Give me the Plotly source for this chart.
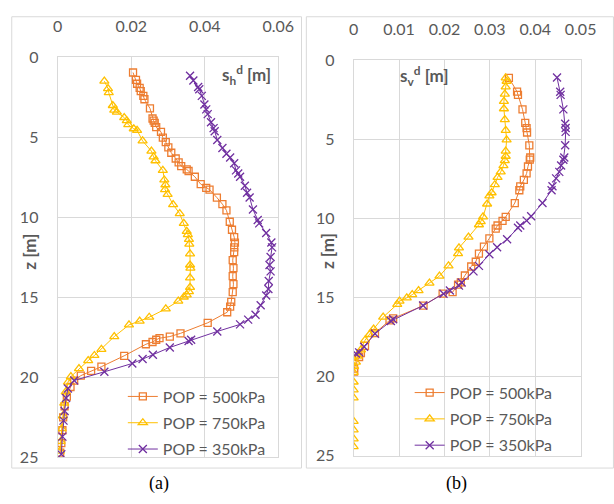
import plotly.graph_objects as go

# ---------------- data : panel (a) horizontal displacement s_h^d [m] vs depth z [m]
a500_x = [0.0205, 0.0213, 0.0216, 0.0223, 0.0226, 0.0233, 0.0236, 0.0251, 0.0258, 0.0261, 0.0264, 0.0268,
          0.0281, 0.0286, 0.0294, 0.0301, 0.0309, 0.0321, 0.0329, 0.0336, 0.0351, 0.0356, 0.0373, 0.0389,
          0.0404, 0.0413, 0.0433, 0.0448, 0.0459, 0.0468, 0.0474, 0.0480, 0.0482, 0.0480, 0.0480, 0.0476,
          0.0478, 0.0476, 0.0478, 0.0476, 0.0472, 0.0469, 0.0461, 0.0408, 0.0334, 0.0305, 0.0277, 0.0268,
          0.0258, 0.0240, 0.0181, 0.0119, 0.0091, 0.0063, 0.0045, 0.0035, 0.0025, 0.0019, 0.0015, 0.0013,
          0.0010, 0.0007]
a500_z = [0.96, 1.42, 1.66, 1.92, 2.12, 2.42, 2.63, 3.20, 3.83, 3.97, 4.10, 4.37,
          4.67, 5.03, 5.31, 5.63, 5.97, 6.33, 6.57, 6.81, 7.01, 7.11, 7.47, 7.93,
          8.17, 8.27, 8.77, 9.18, 9.57, 10.28, 10.78, 11.24, 11.58, 11.88, 12.18, 12.68,
          13.18, 13.68, 14.18, 14.68, 15.28, 15.58, 15.93, 16.59, 17.25, 17.45, 17.55, 17.65,
          17.79, 17.93, 18.65, 19.33, 19.59, 19.89, 20.20, 20.60, 21.20, 21.80, 22.50, 23.30,
          24.10, 24.70]

a750_x = [0.0127, 0.0137, 0.0139, 0.0150, 0.0154, 0.0161, 0.0181, 0.0188, 0.0192, 0.0207, 0.0216, 0.0231,
          0.0255, 0.0261, 0.0266, 0.0286, 0.0290, 0.0293, 0.0292, 0.0299, 0.0314, 0.0332, 0.0343, 0.0351,
          0.0354, 0.0357, 0.0358, 0.0360, 0.0360, 0.0361, 0.0360, 0.0360, 0.0357, 0.0351, 0.0343, 0.0328,
          0.0294, 0.0249, 0.0223, 0.0194, 0.0154, 0.0119, 0.0100, 0.0083, 0.0058, 0.0036, 0.0028, 0.0022,
          0.0018, 0.0014, 0.0011, 0.0008, 0.0006]
a750_z = [1.50, 1.96, 2.22, 3.02, 3.31, 3.43, 3.77, 3.97, 4.22, 4.47, 4.57, 5.23,
          5.87, 6.23, 6.47, 7.07, 7.67, 7.97, 8.27, 8.57, 9.21, 9.77, 10.38, 10.88,
          11.08, 11.38, 11.68, 12.28, 12.98, 13.18, 13.78, 14.38, 14.64, 14.84, 14.98, 15.24,
          15.72, 16.24, 16.48, 16.72, 17.45, 18.25, 18.63, 18.95, 19.45, 19.95, 20.30, 20.90,
          21.60, 22.40, 23.20, 24.00, 24.60]

a350_x = [0.0360, 0.0369, 0.0382, 0.0385, 0.0392, 0.0399, 0.0404, 0.0408, 0.0417, 0.0424, 0.0427, 0.0434,
          0.0448, 0.0459, 0.0469, 0.0480, 0.0485, 0.0491, 0.0496, 0.0509, 0.0515, 0.0522, 0.0531, 0.0544,
          0.0548, 0.0567, 0.0581, 0.0583, 0.0579, 0.0576, 0.0579, 0.0574, 0.0573, 0.0567, 0.0552, 0.0538,
          0.0518, 0.0496, 0.0434, 0.0363, 0.0356, 0.0305, 0.0259, 0.0231, 0.0203, 0.0127, 0.0045, 0.0028,
          0.0023, 0.0019, 0.0016, 0.0013, 0.0010]
a350_z = [1.16, 1.46, 1.86, 2.00, 2.42, 2.96, 3.26, 3.56, 4.07, 4.43, 4.63, 5.17,
          5.67, 6.03, 6.27, 6.63, 7.07, 7.27, 7.47, 8.03, 8.47, 8.77, 9.51, 10.17,
          10.38, 10.98, 11.58, 11.88, 12.48, 12.98, 13.38, 13.98, 14.48, 14.88, 15.49, 16.09,
          16.39, 16.69, 17.13, 17.65, 17.73, 18.13, 18.59, 18.85, 19.13, 19.65, 20.19, 20.69,
          21.29, 22.10, 22.70, 23.70, 24.80]

# ---------------- data : panel (b) vertical displacement s_v^d [m] vs depth z [m]
b500_x = [0.0342, 0.0360, 0.0362, 0.0372, 0.0378, 0.0381, 0.0382, 0.0387, 0.0389, 0.0388, 0.0384, 0.0381,
          0.0375, 0.0367, 0.0365, 0.0355, 0.0335, 0.0328, 0.0317, 0.0313, 0.0299, 0.0287, 0.0276, 0.0269,
          0.0259, 0.0245, 0.0236, 0.0230, 0.0218, 0.0196, 0.0154, 0.0087, 0.0079, 0.0047, 0.0025, 0.0016,
          0.0012, 0.0001, 0.0001]
b500_z = [1.13, 2.00, 2.20, 3.12, 3.97, 4.30, 4.58, 5.39, 6.16, 6.30, 6.73, 7.17,
          7.58, 7.98, 8.23, 9.04, 9.91, 10.17, 10.46, 10.66, 11.27, 11.79, 12.24, 12.75,
          13.05, 13.62, 14.06, 14.20, 14.67, 14.77, 15.52, 16.33, 16.46, 17.26, 18.07, 18.52,
          18.77, 19.50, 19.70]

b750_x = [0.0335, 0.0337, 0.0335, 0.0333, 0.0331, 0.0331, 0.0333, 0.0335, 0.0337, 0.0335, 0.0335, 0.0333,
          0.0330, 0.0324, 0.0317, 0.0311, 0.0304, 0.0299, 0.0294, 0.0285, 0.0280, 0.0276, 0.0253, 0.0232,
          0.0230, 0.0209, 0.0189, 0.0167, 0.0143, 0.0129, 0.0117, 0.0101, 0.0096, 0.0065, 0.0044, 0.0035,
          0.0025, 0.0016, 0.0009, 0.0005, 0.0001, 0.0000, 0.0000, 0.0000, 0.0000, 0.0000, 0.0000, 0.0000,
          0.0000]
b750_z = [1.13, 1.34, 1.70, 2.15, 2.61, 3.08, 3.77, 4.44, 5.05, 5.76, 6.08, 6.36,
          6.67, 7.07, 7.42, 7.88, 8.39, 8.59, 9.10, 9.91, 10.21, 10.41, 11.19, 11.87,
          12.24, 13.01, 13.66, 14.10, 14.57, 14.83, 15.03, 15.24, 15.44, 16.25, 17.00, 17.35,
          17.71, 18.32, 18.72, 19.09, 19.37, 19.74, 20.35, 20.85, 21.35, 22.84, 23.38, 23.95,
          24.44]

b350_x = [0.0448, 0.0455, 0.0456, 0.0462, 0.0466, 0.0467, 0.0467, 0.0466, 0.0464, 0.0462, 0.0457, 0.0453,
          0.0446, 0.0438, 0.0436, 0.0416, 0.0391, 0.0381, 0.0367, 0.0362, 0.0338, 0.0316, 0.0299, 0.0276,
          0.0264, 0.0238, 0.0232, 0.0212, 0.0198, 0.0153, 0.0087, 0.0082, 0.0047, 0.0023, 0.0012, 0.0005]
b350_z = [1.10, 2.00, 2.20, 3.12, 4.03, 4.30, 4.54, 5.39, 6.16, 6.30, 6.67, 7.07,
          7.48, 7.98, 8.23, 9.04, 9.87, 10.15, 10.46, 10.60, 11.33, 11.83, 12.28, 13.01,
          13.36, 14.06, 14.26, 14.57, 14.77, 15.52, 16.39, 16.50, 17.30, 18.12, 18.48, 18.56]

series_names = ["POP = 500kPa", "POP = 750kPa", "POP = 350kPa"]
colors = ["#ED7D31", "#FFC000", "#7030A0"]
symbols = ["square-open", "triangle-up-open", "x-thin-open"]
sizes = [7, 8, 8]

W, H = 614, 504
GRID = "#D9D9D9"
TXT = "#595959"
FONT = "Lato, 'Open Sans', sans-serif"

def px(x):
    return x / W

def py(y):
    return 1 - y / H

fig = go.Figure()

panel_a = [(a500_x, a500_z), (a750_x, a750_z), (a350_x, a350_z)]
panel_b = [(b500_x, b500_z), (b750_x, b750_z), (b350_x, b350_z)]

for i, (xs, zs) in enumerate(panel_a):
    fig.add_trace(go.Scatter(
        x=xs, y=zs, mode="lines+markers", name=series_names[i],
        xaxis="x", yaxis="y", legend="legend", legendgroup="a%d" % i,
        line=dict(color=colors[i], width=1),
        marker=dict(symbol=symbols[i], size=sizes[i], color=colors[i],
                    line=dict(color=colors[i], width=1.3)),
    ))
for i, (xs, zs) in enumerate(panel_b):
    fig.add_trace(go.Scatter(
        x=xs, y=zs, mode="lines+markers", name=series_names[i],
        xaxis="x2", yaxis="y2", legend="legend2", legendgroup="b%d" % i,
        line=dict(color=colors[i], width=1),
        marker=dict(symbol=symbols[i], size=sizes[i], color=colors[i],
                    line=dict(color=colors[i], width=1.3)),
    ))

xcommon = dict(side="top", showgrid=True, gridcolor=GRID, gridwidth=1, zeroline=False,
               showline=True, linecolor=GRID, mirror=True,
               ticks="outside", ticklen=18, tickcolor="rgba(0,0,0,0)",
               tickfont=dict(family=FONT, size=16, color=TXT))
ycommon = dict(autorange=False, showgrid=True, gridcolor=GRID, gridwidth=1, zeroline=False,
               showline=True, linecolor=GRID, mirror=True, range=[25, 0],
               tickvals=[0, 5, 10, 15, 20, 25],
               ticks="outside", ticklen=15, tickcolor="rgba(0,0,0,0)",
               tickfont=dict(family=FONT, size=16, color=TXT))

fig.update_layout(
    width=W, height=H, autosize=False,
    margin=dict(l=0, r=0, t=0, b=0),
    paper_bgcolor="white", plot_bgcolor="white",
    xaxis=dict(domain=[px(54.5), px(283)], range=[0, 0.06], tickvals=[0, 0.02, 0.04, 0.06],
               ticktext=["0", "0.02", "0.04", "0.06"], anchor="y", **xcommon),
    yaxis=dict(domain=[py(465), py(49)], anchor="x", **ycommon),
    xaxis2=dict(domain=[px(361), px(596)], range=[0, 0.05],
                tickvals=[0, 0.01, 0.02, 0.03, 0.04, 0.05],
                ticktext=["0", "0.01", "0.02", "0.03", "0.04", "0.05"], anchor="y2", **xcommon),
    yaxis2=dict(domain=[py(463), py(52)], anchor="x2", **ycommon),
    legend=dict(x=px(122), y=py(384), xanchor="left", yanchor="top",
                bgcolor="rgba(0,0,0,0)", borderwidth=0, tracegroupgap=2.5,
                font=dict(family=FONT, size=16, color=TXT)),
    legend2=dict(x=px(419), y=py(380), xanchor="left", yanchor="top",
                 bgcolor="rgba(0,0,0,0)", borderwidth=0, tracegroupgap=2.5,
                 font=dict(family=FONT, size=16, color=TXT)),
    showlegend=True,
)

# panel frames
fig.add_shape(type="rect", xref="paper", yref="paper", x0=px(7), x1=px(307), y0=py(476), y1=py(7),
              line=dict(color=GRID, width=1), fillcolor="rgba(0,0,0,0)", layer="below")
fig.add_shape(type="rect", xref="paper", yref="paper", x0=px(312), x1=px(630), y0=py(476), y1=py(7),
              line=dict(color=GRID, width=1), fillcolor="rgba(0,0,0,0)", layer="below")

ann_font = dict(family=FONT, size=17, color=TXT)
annotations = [
    dict(text="<b>s<sub>h</sub><sup>d</sup> [m]</b>", x=px(250), y=py(68)),
    dict(text="<b>s<sub>v</sub><sup>d</sup> [m]</b>", x=px(434), y=py(69)),
    dict(text="<b>z [m]</b>", x=px(25), y=py(251), textangle=-90),
    dict(text="<b>z [m]</b>", x=px(334), y=py(251), textangle=-90),
]
for a in annotations:
    fig.add_annotation(xref="paper", yref="paper", showarrow=False, font=ann_font,
                       xanchor="center", yanchor="middle", **a)

cap_font = dict(family="'Liberation Serif', 'DejaVu Serif', serif", size=18, color="black")
fig.add_annotation(text="(a)", x=px(159), y=py(492), xref="paper", yref="paper", showarrow=False,
                   font=cap_font, xanchor="center", yanchor="middle")
fig.add_annotation(text="(b)", x=px(468), y=py(492), xref="paper", yref="paper", showarrow=False,
                   font=cap_font, xanchor="center", yanchor="middle")

fig.write_html("out.html")
